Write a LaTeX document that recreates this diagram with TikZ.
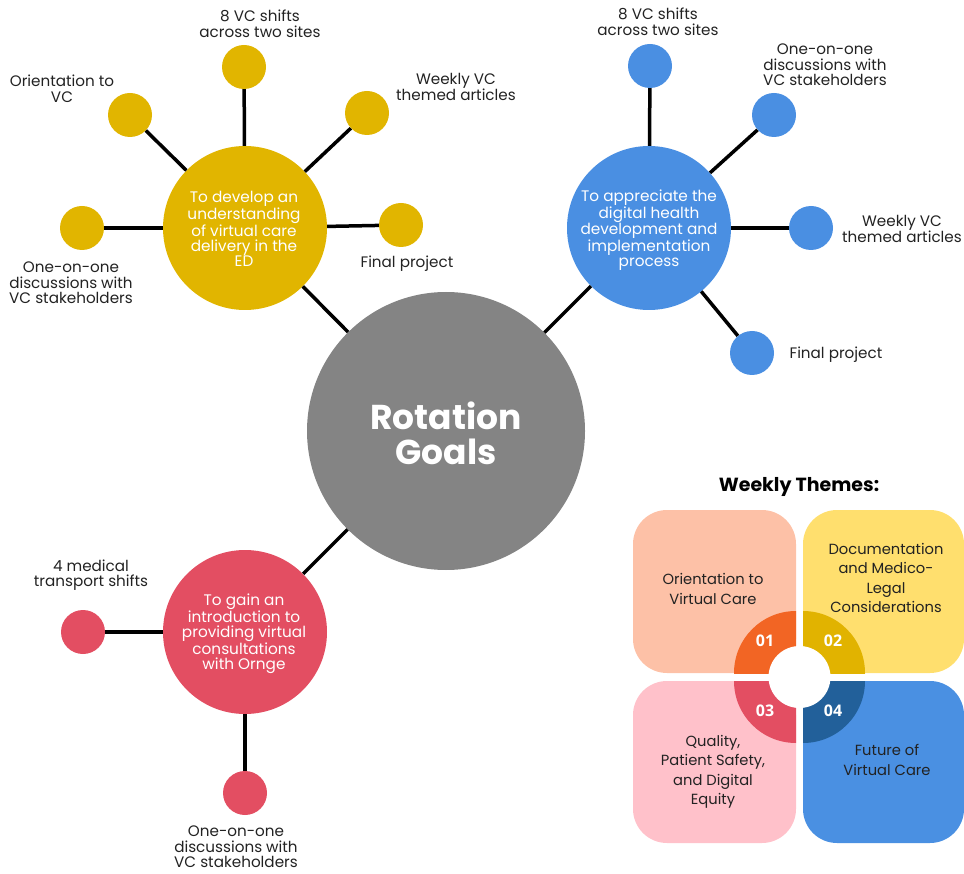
\documentclass[tikz,border=0pt]{standalone}
\usepackage{fontspec}
\setmainfont{Poppins}
\newfontfamily\numfont{Open Sans}
\definecolor{cgray}{HTML}{848484}
\definecolor{cyel}{HTML}{E1B500}
\definecolor{cblue}{HTML}{4A8FE2}
\definecolor{cred}{HTML}{E34E62}
\definecolor{tpeach}{HTML}{FDC1A7}
\definecolor{tyel}{HTML}{FFDF6E}
\definecolor{tpink}{HTML}{FFC1CA}
\definecolor{tblue}{HTML}{4A90E2}
\definecolor{rorange}{HTML}{F26524}
\definecolor{rgold}{HTML}{E1B300}
\definecolor{rred}{HTML}{E34E62}
\definecolor{rdblue}{HTML}{22609A}
\definecolor{ink}{HTML}{222222}
\begin{document}
\begin{tikzpicture}[x=1pt,y=-1pt,
  big/.style={circle, inner sep=0pt, minimum size=164pt},
  sm/.style={circle, inner sep=0pt, minimum size=44pt},
  lbl/.style={align=center, font=\fontsize{15.2}{15.6}\selectfont, text=ink, inner sep=0pt},
  ctext/.style={align=center, text=white, font=\fontsize{15.3}{15}\selectfont, inner sep=0pt},
  conn/.style={draw=black, line width=3.5pt},
  tile/.style={rounded corners=34pt},
  ttext/.style={align=center, text=ink, font=\fontsize{14.7}{19.5}\selectfont, inner sep=0pt},
  num/.style={text=white, font=\numfont\bfseries\fontsize{16}{16}\selectfont, inner sep=0pt}]
\useasboundingbox (0,0) rectangle (964,874);

% main circles
\node[circle, inner sep=0pt, minimum size=278pt, fill=cgray] (c) at (446,431) {};
\node[big, fill=cyel] (y) at (245,228) {};
\node[big, fill=cblue] (b) at (649,228) {};
\node[big, fill=cred] (r) at (245,632) {};

% small circles
\node[sm, fill=cyel] (y1) at (244,67) {};
\node[sm, fill=cyel] (y2) at (130,115) {};
\node[sm, fill=cyel] (y3) at (367,113) {};
\node[sm, fill=cyel] (y4) at (82,228) {};
\node[sm, fill=cyel] (y5) at (401,225) {};
\node[sm, fill=cblue] (b1) at (650,66) {};
\node[sm, fill=cblue] (b2) at (774,115) {};
\node[sm, fill=cblue] (b3) at (811,228) {};
\node[sm, fill=cblue] (b4) at (752,353) {};
\node[sm, fill=cred] (r1) at (83,632) {};
\node[sm, fill=cred] (r2) at (245,793) {};

% connectors
\draw[conn] (c) -- (y);
\draw[conn] (c) -- (b);
\draw[conn] (c) -- (r);
\foreach \s in {y1,y2,y3,y4,y5} \draw[conn] (y) -- (\s);
\foreach \s in {b1,b2,b3,b4} \draw[conn] (b) -- (\s);
\foreach \s in {r1,r2} \draw[conn] (r) -- (\s);

% circle texts
\node[text=white, align=center, font=\bfseries\fontsize{34.5}{35}\selectfont, inner sep=0pt] (ct) at (446,433) {Rotation\\Goals};
\node[ctext] (yt) at (244,229) {To develop an\\understanding\\of virtual care\\delivery in the\\ED};
\node[ctext] (bt) at (649,230) {To appreciate the\\digital health\\development and\\implementation\\process};
\node[ctext] (rt) at (244,634) {To gain an\\introduction to\\providing virtual\\consultations\\with Ornge};

% labels
\node[lbl] (ly1) at (260,24) {8 VC shifts\\across two sites};
\node[lbl] (ly2) at (62,89) {Orientation to\\VC};
\node[lbl] (ly3) at (456,87) {Weekly VC\\themed articles};
\node[lbl] (ly4) at (71,283) {One-on-one\\discussions with\\VC stakeholders};
\node[lbl] (ly5) at (407,264) {Final project};
\node[lbl] (lb1) at (658,22) {8 VC shifts\\across two sites};
\node[lbl] (lb2) at (825,65) {One-on-one\\discussions with\\VC stakeholders};
\node[lbl] (lb3) at (902,229) {Weekly VC\\themed articles};
\node[lbl] (lb4) at (836,355) {Final project};
\node[lbl] (lr1) at (91,575) {4 medical\\transport shifts};
\node[lbl] (lr2) at (236,847) {One-on-one\\discussions with\\VC stakeholders};

% weekly themes
\node[text=black, font=\bfseries\fontsize{19}{20}\selectfont, inner sep=0pt] (wt) at (799,487) {Weekly Themes:};
\fill[tpeach, tile] (633,510) rectangle (796,673);
\fill[tyel, tile] (803,510) rectangle (964,673);
\fill[tpink, tile] (633,681) rectangle (796,843);
\fill[tblue, tile] (803,681) rectangle (964,843);
\begin{scope}\clip (633,510) rectangle (796,673); \fill[rorange] (796,673) circle[radius=62]; \end{scope}
\begin{scope}\clip (803,510) rectangle (964,673); \fill[rgold] (803,673) circle[radius=62]; \end{scope}
\begin{scope}\clip (633,681) rectangle (796,843); \fill[rred] (796,681) circle[radius=62]; \end{scope}
\begin{scope}\clip (803,681) rectangle (964,843); \fill[rdblue] (803,681) circle[radius=62]; \end{scope}
\fill[white] (799.5,677) circle[radius=31];
\node[num] (n1) at (765,641) {01};
\node[num] (n2) at (833,641) {02};
\node[num] (n3) at (765,711) {03};
\node[num] (n4) at (833,711) {04};
\node[ttext] (t1) at (713,589) {Orientation to\\Virtual Care};
\node[ttext] (t2) at (886,578) {Documentation\\and Medico-\\Legal\\Considerations};
\node[ttext] (t3) at (713,772) {Quality,\\Patient Safety,\\and Digital\\Equity};
\node[ttext] (t4) at (887,760) {Future of\\Virtual Care};
\end{tikzpicture}
\end{document}
